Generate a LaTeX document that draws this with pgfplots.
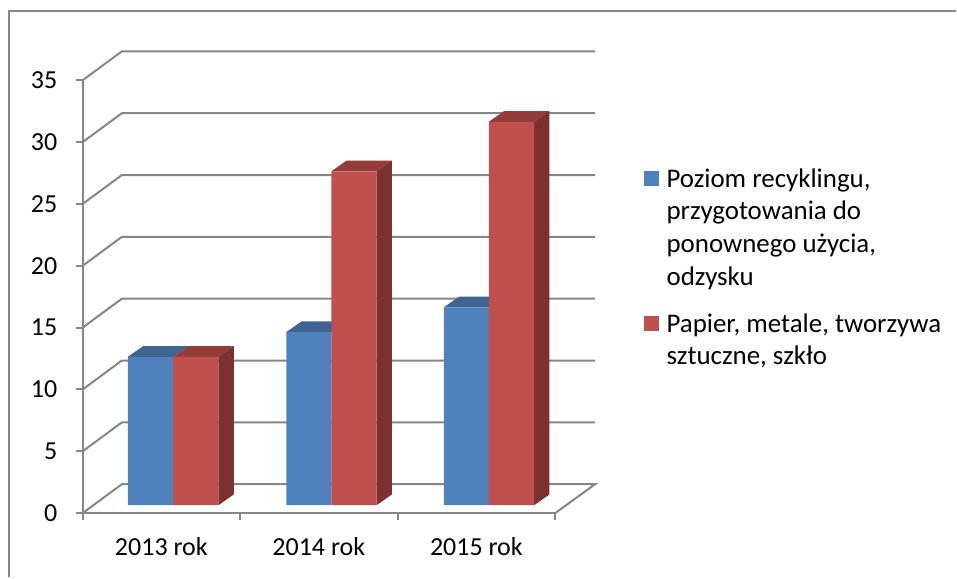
\documentclass[border=0pt]{standalone}
\usepackage{fontspec}
\setmainfont{Carlito}
\usepackage{pgfplots}
\pgfplotsset{compat=1.18}
\definecolor{gridgray}{HTML}{868686}
\definecolor{sblue}{HTML}{4F81BD}
\definecolor{sbluetop}{HTML}{3E6592}
\definecolor{sred}{HTML}{C0504D}
\definecolor{sredtop}{HTML}{943C3A}
\definecolor{sredside}{HTML}{7C3130}
\newcommand{\chartfont}{\fontsize{19.5}{24.5}\selectfont}
\newcommand{\legendfont}{\fontsize{20.2}{24.5}\selectfont}
\begin{document}
\begin{tikzpicture}
\begin{axis}[
    scale only axis,
    width=354.75pt, height=324.98pt,
    xmin=82.7, xmax=555.7,
    ymin=0, ymax=35,
    clip=false,
    axis lines*=left,
    axis line style={-, draw=gridgray, line width=1.5pt},
    tick style={draw=gridgray, line width=1.5pt},
    tick align=outside,
    major tick length=5pt,
    xtick={82.7,240.3,398,555.7},
    x tick label as interval,
    xticklabels={2013 rok,2014 rok,2015 rok},
    ytick={0,5,10,15,20,25,30,35},
    /pgf/number format/assume math mode=true,
    tick label style={font=\chartfont, text=black},
    xticklabel style={yshift=-9.75pt},
    yticklabel style={xshift=-10.5pt},
    every axis plot/.append style={forget plot},
    empty line=jump,
]
% white page and the two frame lines that show
\path (axis cs:0,41.494) rectangle (axis cs:957,-5.194);
\draw[gridgray, line width=1.5pt] (axis cs:9,-5.194) -- (axis cs:9,40.6) -- (axis cs:957,40.6);

% walls and floor
\addplot[gridgray, line width=1.5pt] coordinates {
    (82.7,0) (122,2.342) (595.7,2.342) (555.7,0)

    (82.7,5) (122,7.342) (595.7,7.342)

    (82.7,10) (122,12.342) (595.7,12.342)

    (82.7,15) (122,17.342) (595.7,17.342)

    (82.7,20) (122,22.342) (595.7,22.342)

    (82.7,25) (122,27.342) (595.7,27.342)

    (82.7,30) (122,32.342) (595.7,32.342)

    (82.7,35) (122,37.342) (595.7,37.342)
};

% bar tops and sides, bars stand 8 px in front of the floor edge
\addplot[fill=sbluetop, draw=none, yshift=6pt] coordinates {
    (128,12) (173.3,12) (188.6,12.864) (143.3,12.864) (128,12)

    (286.7,14) (331.7,14) (347,14.864) (302,14.864) (286.7,14)

    (444.3,16) (489.3,16) (504.6,16.864) (459.6,16.864) (444.3,16)
};
\addplot[fill=sredtop, draw=none, yshift=6pt] coordinates {
    (173.3,12) (218.7,12) (234,12.864) (188.6,12.864) (173.3,12)

    (331.7,27) (377,27) (392.3,27.864) (347,27.864) (331.7,27)

    (489.3,31) (534.7,31) (550,31.864) (504.6,31.864) (489.3,31)
};
\addplot[fill=sredside, draw=none, yshift=6pt] coordinates {
    (218.7,0) (234,0.864) (234,12.864) (218.7,12) (218.7,0)

    (377,0) (392.3,0.864) (392.3,27.864) (377,27) (377,0)

    (534.7,0) (550,0.864) (550,31.864) (534.7,31) (534.7,0)
};
% bar fronts
\addplot[fill=sblue, draw=none, yshift=6pt] coordinates {
    (128,0) (173.3,0) (173.3,12) (128,12) (128,0)

    (286.7,0) (331.7,0) (331.7,14) (286.7,14) (286.7,0)

    (444.3,0) (489.3,0) (489.3,16) (444.3,16) (444.3,0)
};
\addplot[fill=sred, draw=none, yshift=6pt] coordinates {
    (173.3,0) (218.7,0) (218.7,12) (173.3,12) (173.3,0)

    (331.7,0) (377,0) (377,27) (331.7,27) (331.7,0)

    (489.3,0) (534.7,0) (534.7,31) (489.3,31) (489.3,0)
};

% legend
\fill[sblue] (axis cs:645,27.63) rectangle (axis cs:660,26.42);
\fill[sred] (axis cs:645,15.92) rectangle (axis cs:660,14.71);
\node[anchor=north west, inner sep=0pt, align=left, font=\legendfont] at (axis cs:667,27.88)
    {Poziom recyklingu,\\przygotowania do\\ponownego użycia,\\odzysku};
\node[anchor=north west, inner sep=0pt, align=left, font=\legendfont] at (axis cs:667,16.18)
    {Papier, metale, tworzywa\\sztuczne, szkło};
\end{axis}
\end{tikzpicture}
\end{document}
